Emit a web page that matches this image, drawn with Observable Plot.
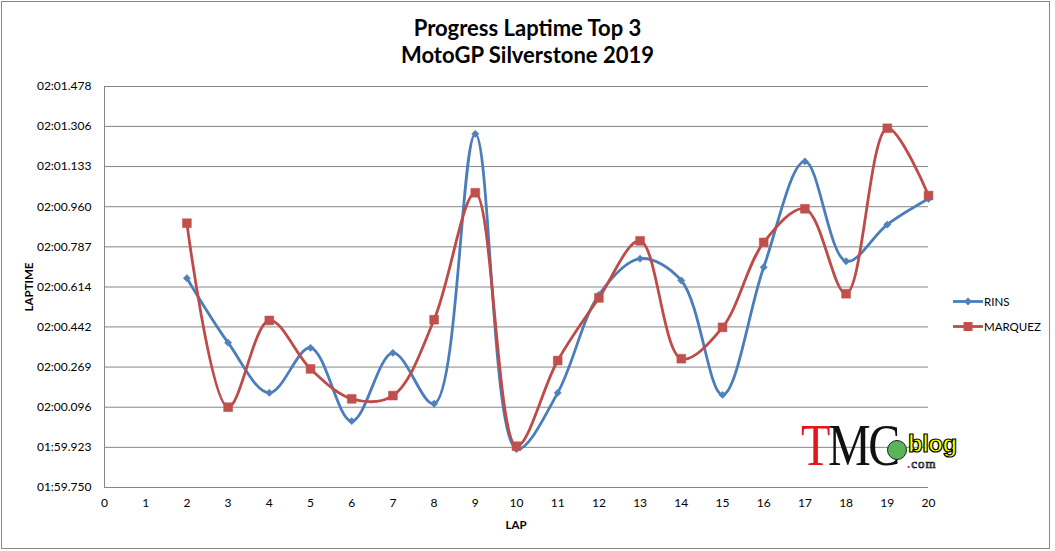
<!DOCTYPE html>
<html>
<head>
<meta charset="utf-8">
<script src="https://cdn.jsdelivr.net/npm/d3@7"></script>
<script src="https://cdn.jsdelivr.net/npm/@observablehq/plot@0.6"></script>
<style>
  html, body { margin: 0; padding: 0; background: #fff; }
  #wrap { position: relative; width: 1055px; height: 551px; overflow: hidden; font-family: Lato, "Open Sans", sans-serif; }
  #frame { position: absolute; left: 1px; top: 1px; width: 1047px; height: 546px; border: 1px solid #878787; }
  #title { position: absolute; left: 0; width: 1055px; top: 14px; text-align: center; font-weight: bold; font-size: 22px; line-height: 27px; color: #000; }
  #chart { position: absolute; left: 0; top: 0; }
  .axlab { position: absolute; font-weight: bold; font-size: 11.5px; color: #000; white-space: nowrap; }
  #ylab { left: 28px; top: 287px; transform: translate(-50%, -50%) rotate(-90deg); }
  #xlab { left: 516px; top: 524px; transform: translate(-50%, -50%); }
  #legend { position: absolute; left: 953px; top: 289px; font-size: 11.5px; color: #000; }
  .li { display: flex; align-items: center; height: 25px; }
  .li svg { margin-right: 1px; }
  #logo { position: absolute; left: 801px; top: 414px; width: 170px; height: 60px; }
  #logo .tmc { position: absolute; left: 0; top: 0; font-family: "Liberation Serif", "DejaVu Serif", serif; font-size: 60px; line-height: 62px; transform: scaleX(0.8); transform-origin: left top; letter-spacing: -3px; }
  #logo .t { color: #e8141b; }
  #logo .mc { color: #111; }
  #logo .ball { position: absolute; left: 86px; top: 26px; width: 18px; height: 18px; border-radius: 50%; background: #5bb35a; border: 1px solid #222; }
  #logo .blog { position: absolute; left: 107px; top: 17px; font-family: "Liberation Sans", Arial, sans-serif; font-weight: bold; font-size: 24px; line-height: 26px; color: #ffff00; -webkit-text-stroke: 1.2px #000; letter-spacing: -0.5px; }
  #logo .com { position: absolute; left: 106px; top: 44px; font-family: "Liberation Serif", serif; font-size: 13px; line-height: 12px; color: #fff; -webkit-text-stroke: 0.7px #000; letter-spacing: 1px; }
  #logo .com b { color: #e8141b; -webkit-text-stroke: 0; }
</style>
</head>
<body>
<div id="wrap">
  <div id="frame"></div>
  <div id="chart"></div>
  <div id="title">Progress Laptime Top 3<br>MotoGP Silverstone 2019</div>
  <div class="axlab" id="ylab">LAPTIME</div>
  <div class="axlab" id="xlab">LAP</div>
  <div id="legend"></div>
  <div id="logo">
    <div class="tmc"><span class="t">T</span><span class="mc">MC</span></div>
    <div class="ball"></div>
    <div class="blog">blog</div>
    <div class="com"><b>.</b>com</div>
  </div>
</div>
<script>
// ---- data (lap times in seconds) ----
const laps = [2, 3, 4, 5, 6, 7, 8, 9, 10, 11, 12, 13, 14, 15, 16, 17, 18, 19, 20];
const rins = [120.652, 120.374, 120.158, 120.352, 120.036, 120.330, 120.111, 121.274, 119.915, 120.158,
              120.580, 120.736, 120.642, 120.149, 120.699, 121.155, 120.725, 120.883, 120.994];
const marquez = [120.889, 120.096, 120.470, 120.261, 120.132, 120.146, 120.473, 121.020, 119.928, 120.297,
                 120.567, 120.813, 120.305, 120.440, 120.806, 120.951, 120.585, 121.298, 121.008];
const seriesNames = ["RINS", "MARQUEZ"];
const xTicks = [0, 1, 2, 3, 4, 5, 6, 7, 8, 9, 10, 11, 12, 13, 14, 15, 16, 17, 18, 19, 20];
const yTicks = [119.750, 119.923, 120.096, 120.269, 120.442, 120.614, 120.787, 120.960, 121.133, 121.306, 121.478];
const yTickLabels = ["01:59.750", "01:59.923", "02:00.096", "02:00.269", "02:00.442", "02:00.614",
                     "02:00.787", "02:00.960", "02:01.133", "02:01.306", "02:01.478"];

const colors = { RINS: "#4a7ebb", MARQUEZ: "#be4b48" };
const markColors = { RINS: "#4f81bd", MARQUEZ: "#c0504d" };

const rinsData = laps.map((lap, i) => ({ lap, t: rins[i], s: "RINS" }));
const marqData = laps.map((lap, i) => ({ lap, t: marquez[i], s: "MARQUEZ" }));

const plot = Plot.plot({
  width: 1055,
  height: 551,
  marginLeft: 104,
  marginRight: 127,
  marginTop: 86,
  marginBottom: 64,
  style: { fontFamily: "Lato, 'Open Sans', sans-serif", fontSize: "12px", color: "#000", background: "transparent", overflow: "visible" },
  x: { domain: [0, 20] },
  y: { domain: [119.750, 121.478] },
  marks: [
    Plot.ruleY(yTicks, { stroke: "#868686", strokeWidth: 1 }),
    Plot.ruleX([0], { stroke: "#868686", strokeWidth: 1 }),
    Plot.axisY({ ticks: yTicks, tickSize: 0, tickPadding: 13, tickFormat: (d) => yTickLabels[yTicks.indexOf(d)], label: null, fontSize: 12 }),
    Plot.axisX({ ticks: xTicks, tickSize: 0, tickPadding: 11, tickFormat: (d) => String(d), label: null, fontSize: 12 }),
    Plot.line(rinsData, { x: "lap", y: "t", stroke: colors.RINS, strokeWidth: 2.8, curve: "catmull-rom" }),
    Plot.dot(rinsData, { x: "lap", y: "t", symbol: "diamond2", r: 3.3, fill: markColors.RINS, stroke: markColors.RINS, strokeWidth: 0.5 }),
    Plot.line(marqData, { x: "lap", y: "t", stroke: colors.MARQUEZ, strokeWidth: 2.8, curve: "catmull-rom" }),
    Plot.dot(marqData, { x: "lap", y: "t", symbol: "square", r: 5, fill: markColors.MARQUEZ, stroke: markColors.MARQUEZ, strokeWidth: 0.5 })
  ]
});
document.getElementById("chart").appendChild(plot);

// legend
const legend = document.getElementById("legend");
seriesNames.forEach((name) => {
  const item = document.createElement("div");
  item.className = "li";
  const c = colors[name], m = markColors[name];
  const marker = name === "RINS"
    ? `<path d="M15,1.5 L19,5.5 L15,9.5 L11,5.5 Z" fill="${m}"/>`
    : `<rect x="10.5" y="1" width="9" height="9" fill="${m}"/>`;
  item.innerHTML = `<svg width="30" height="11"><line x1="0" x2="30" y1="5.5" y2="5.5" stroke="${c}" stroke-width="2.8"/>${marker}</svg><span>${name}</span>`;
  legend.appendChild(item);
});
</script>
</body>
</html>
